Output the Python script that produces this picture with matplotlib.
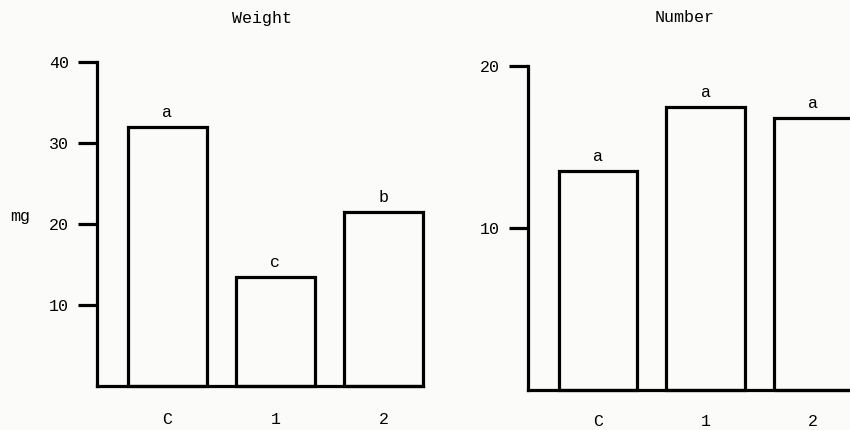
import matplotlib.pyplot as plt

groups = ['C', '1', '2']

weight = [32, 13.5, 21.5]
weight_letters = ['a', 'c', 'b']

number = [13.5, 17.5, 16.8]
number_letters = ['a', 'a', 'a']

plt.rcParams['font.family'] = 'Liberation Mono'
plt.rcParams['font.size'] = 12

fig = plt.figure(figsize=(8.5, 4.3), dpi=100)
fig.patch.set_facecolor('#fbfbf9')

W, H = 850, 430
bar_w = 0.73
lw = 2.3


def panel(rect, values, letters, ymax, yticks, xmax, xpad):
    ax = fig.add_axes(rect)
    ax.set_facecolor('none')
    x = range(len(groups))
    ax.bar(x, values, width=bar_w, facecolor='none', edgecolor='black',
           linewidth=lw, joinstyle='miter', clip_on=False)
    for i, (v, s) in enumerate(zip(values, letters)):
        ax.annotate(s, (i, v), xytext=(0, 5), textcoords='offset points',
                    ha='center', va='bottom')
    ax.set_xlim(-0.65, xmax)
    ax.set_ylim(0, ymax)
    ax.set_yticks(yticks)
    ax.set_xticks(list(x))
    ax.set_xticklabels(groups)
    ax.tick_params(axis='x', length=0, pad=xpad)
    ax.tick_params(axis='y', direction='out', length=14, width=lw, pad=6)
    for side in ['top', 'right']:
        ax.spines[side].set_visible(False)
    for side in ['left', 'bottom']:
        ax.spines[side].set_linewidth(lw)
        ax.spines[side].set_capstyle('projecting')
    return ax


# left panel: weight in mg
ax1 = panel([97 / W, 44 / H, 326 / W, 324 / H], weight, weight_letters,
            40, [10, 20, 30, 40], 2.365, 19)
fig.text(262 / W, 1 - 18 / H, 'Weight', ha='center', va='center')
ax1.set_ylabel('mg', rotation=0)
ax1.yaxis.set_label_coords(-0.235, 0.5)

# right panel: number, runs off the right edge
ax2 = panel([528 / W, 40 / H, 339 / W, 324 / H], number, number_letters,
            20, [10, 20], 2.5, 17)
fig.text(685 / W, 1 - 18 / H, 'Number', ha='center', va='center')

fig.savefig('out.png', dpi=100, facecolor=fig.get_facecolor())
